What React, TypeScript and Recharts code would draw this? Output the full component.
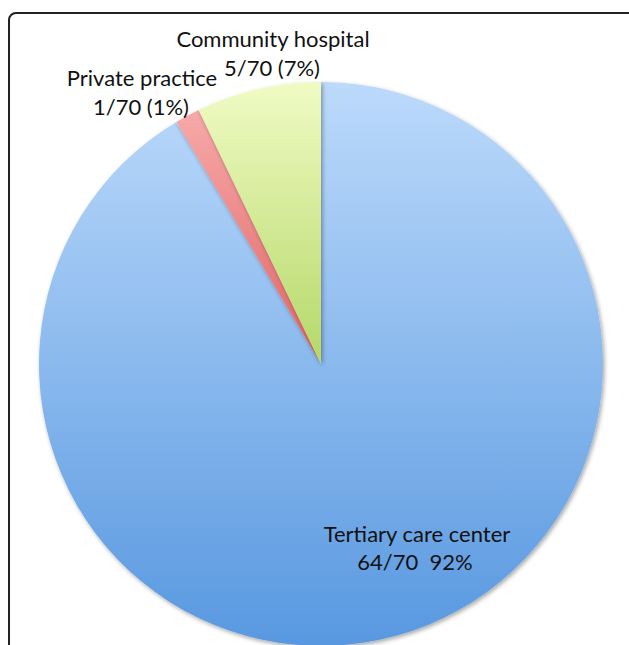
import React from "react";
import { PieChart, Pie, Cell } from "recharts";

// settings of the 70 respondents
const settings = ["Tertiary care center", "Private practice", "Community hospital"];
const counts = [64, 1, 5];
const valueLabels = ["64/70  92%", "1/70 (1%)", "5/70 (7%)"];

// gradient stops per slice: [top, bottom]
const gradients = [
  ["#bcdafb", "#5898e0"],
  ["#f7a9a9", "#e06464"],
  ["#f0fbc4", "#b4d868"],
];

// label placement relative to the pie centre, per slice (two lines)
const labelOffsets = [
  { dx: 96, dy: 169, dx2: 94, dy2: 197 },
  { dx: -179, dy: -287, dx2: -180, dy2: -258 },
  { dx: -48, dy: -326, dx2: -49, dy2: -297 },
];

const data = settings.map((name, i) => ({ name, value: counts[i], sub: valueLabels[i] }));

const FONT = "Lato, 'Open Sans', sans-serif";

function renderLabel(props: any) {
  const { cx, cy, index } = props;
  const o = labelOffsets[index];
  const d = data[index];
  return (
    <g key={index}>
      <text x={cx + o.dx} y={cy + o.dy} textAnchor="middle" dominantBaseline="central"
        fill="#111" fontSize={22} fontFamily={FONT} style={{ whiteSpace: "pre" }}>{d.name}</text>
      <text x={cx + o.dx2} y={cy + o.dy2} textAnchor="middle" dominantBaseline="central"
        fill="#111" fontSize={22} fontFamily={FONT} style={{ whiteSpace: "pre" }}>{d.sub}</text>
    </g>
  );
}

export default function App() {
  return (
    <div style={{ position: "absolute", left: 0, top: 0, width: 629, height: 645, overflow: "hidden", background: "#fff" }}>
      <div style={{
        position: "absolute", left: 8, top: 12, width: 630, height: 700,
        border: "2px solid #222", borderRadius: 8, boxSizing: "border-box",
      }} />
      <div style={{ position: "absolute", left: 0, top: 0 }}>
        <PieChart width={629} height={645} margin={{ top: 0, right: 0, bottom: 0, left: 0 }}>
          <defs>
            {gradients.map((g, i) => (
              <linearGradient key={i} id={`grad${i}`} x1="0" y1="0" x2="0" y2="1">
                <stop offset="0%" stopColor={g[0]} />
                <stop offset="100%" stopColor={g[1]} />
              </linearGradient>
            ))}
            <filter id="shadow" x="-10%" y="-10%" width="120%" height="120%">
              <feDropShadow dx="1.5" dy="2" stdDeviation="2" floodColor="#000" floodOpacity="0.35" />
            </filter>
          </defs>
          <Pie
            data={data}
            dataKey="value"
            nameKey="name"
            cx={321}
            cy={364}
            outerRadius={282}
            startAngle={90}
            endAngle={-270}
            stroke="none"
            label={renderLabel}
            labelLine={false}
            isAnimationActive={false}
            style={{ filter: "url(#shadow)" }}
          >
            {data.map((d, i) => (
              <Cell key={d.name} fill={`url(#grad${i})`} />
            ))}
          </Pie>
        </PieChart>
      </div>
    </div>
  );
}
